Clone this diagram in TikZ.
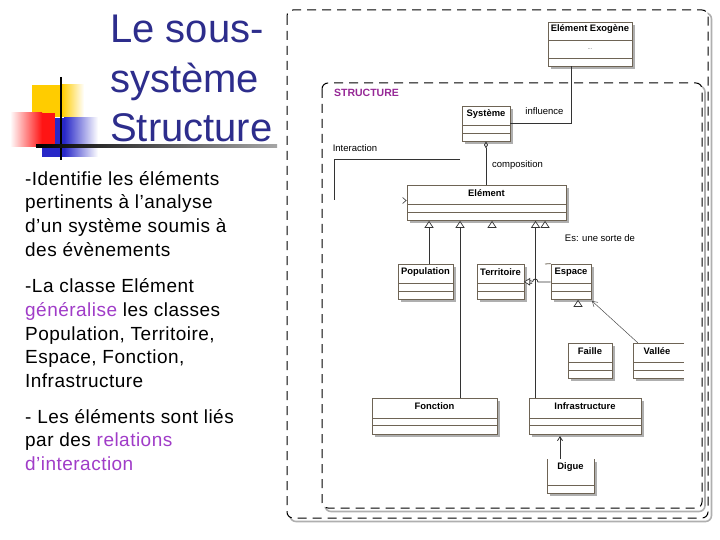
\documentclass[tikz,border=0pt]{standalone}
\usepackage{fontspec}
\setmainfont{Liberation Sans}
\newfontfamily\bodyfont[LetterSpace=2.5]{Liberation Sans}
\usetikzlibrary{arrows.meta,fit,calc}
\definecolor{titleblue}{RGB}{45,45,140}
\definecolor{purp}{RGB}{160,60,200}
\definecolor{structpurp}{RGB}{150,40,150}
\definecolor{umlline}{RGB}{110,100,85}
\definecolor{shadowgray}{RGB}{175,175,175}
\definecolor{ylw}{RGB}{255,204,0}
\definecolor{blu}{RGB}{40,40,200}
\definecolor{rd}{RGB}{255,20,20}
\tikzset{
 clsbox/.style={draw=umlline, fill=white, line width=0.8pt, inner sep=0pt},
 clsline/.style={draw=umlline, line width=0.8pt},
 clslabel/.style={font=\fontsize{9.4}{10}\selectfont\bfseries, inner sep=0pt},
 umllabel/.style={font=\fontsize{9.5}{11}\selectfont, inner sep=0pt},
 conn/.style={draw=black!80, line width=0.8pt},
 depl/.style={draw=black!70, line width=0.5pt},
 gentri/.style={draw=black!80, fill=white, line width=0.7pt},
 bodytext/.style={font=\bodyfont\fontsize{19}{22}\selectfont, anchor=base west, inner sep=0pt},
 titletext/.style={font=\fontsize{40}{48}\selectfont, text=titleblue, anchor=base west, inner sep=0pt},
 framebox/.style={draw=black, line width=1pt, dash pattern=on 9pt off 6pt, rounded corners=6pt},
 frameshadow/.style={draw=shadowgray, line width=1.6pt, rounded corners=6pt},
}
\newcommand\umlcls[8]{%
  \fill[shadowgray] (#2+3,#3+3) rectangle (#4+3,#5+3);
  \node[clsbox, fit={(#2,#3) (#4,#5)}] (#1) {};
  \draw[clsline] (#2,#6) -- (#4,#6);
  \draw[clsline] (#2,#7) -- (#4,#7);
  \node[clslabel] (#1-t) at ({(#2+#4)/2},{(#3+#6)/2-1.5}) {#8};
}
\newcommand\gentriangle[2]{%
  \draw[gentri] (#1-4,#2+6) -- (#1,#2) -- (#1+4,#2+6) -- cycle;
}
\begin{document}
\begin{tikzpicture}[x=1pt,y=-1pt]
\useasboundingbox (0,0) rectangle (720,540);
\fill[white] (0,0) rectangle (720,540);

% ---- title decoration
\fill[ylw] (32,85) rectangle (62,117);
\shade[left color=ylw, right color=white] (62,85) rectangle (84,117);
\fill[blu] (42,118) rectangle (64,157);
\shade[left color=blu, right color=white] (64,118) rectangle (98,157);
\shade[left color=white, right color=rd] (10,113) rectangle (42,147);
\fill[rd] (42,113) rectangle (55,147);
\draw[black, line width=2pt] (61,77) -- (61,160);
\shade[left color=black, right color=gray!70] (36,144.5) rectangle (277,147.5);

% ---- title
\node[titletext] (t1) at (110,43) {Le sous-};
\node[titletext] (t2) at (110,92.5) {système};
\node[titletext] (t3) at (110,142) {Structure};

% ---- body text
\node[bodytext] (l1) at (25,185.7) {-Identifie les éléments};
\node[bodytext] (l2) at (25,209) {pertinents à l’analyse};
\node[bodytext] (l3) at (25,232.7) {d’un système soumis à};
\node[bodytext] (l4) at (25,256.5) {des évènements};
\node[bodytext] (l5) at (25,292.7) {-La classe Elément};
\node[bodytext] (l6) at (25,316.5) {\textcolor{purp}{généralise} les classes};
\node[bodytext] (l7) at (25,340) {Population, Territoire,};
\node[bodytext] (l8) at (25,363.5) {Espace, Fonction,};
\node[bodytext] (l9) at (25,387.5) {Infrastructure};
\node[bodytext] (l10) at (25,423) {- Les éléments sont liés};
\node[bodytext] (l11) at (25,446.7) {par des \textcolor{purp}{relations}};
\node[bodytext] (l12) at (25,470) {\textcolor{purp}{d’interaction}};

% ---- frames
\draw[frameshadow] (290,13) rectangle (711.5,521.5);
\fill[white, rounded corners=6pt] (287,10) rectangle (708,518);
\draw[framebox] (287,10) rectangle (708,518);
\draw[frameshadow] (325,86) rectangle (705,511.5);
\fill[white, rounded corners=6pt] (322,83) rectangle (702,508);
\draw[framebox] (322,83) rectangle (702,508);

% ---- labels
\node[font=\fontsize{10.5}{12}\selectfont\bfseries, text=structpurp, inner sep=0pt] (slab) at (366.5,93) {STRUCTURE};
\node[umllabel] (linf) at (544.5,111.5) {influence};
\node[umllabel] (lint) at (355,148) {Interaction};
\node[umllabel] (lcomp) at (517.5,165.5) {composition};
\node[umllabel] (lsorte) at (600,238.5) {Es: une sorte de};

% ---- connectors (drawn before the classes)
\coordinate (ia1) at (460,159);
\coordinate (ia2) at (334,159);
\coordinate (ia3) at (334,200);
\draw[conn] (ia1) -- (ia2) -- (ia3);

\coordinate (g1) at (429,227.5);
\coordinate (g2) at (460,227.5);
\coordinate (g3) at (535.5,227.5);
\coordinate (h1) at (538,282);
\coordinate (h2) at (532.5,282);
\coordinate (d1) at (560,436);

% ---- classes
\umlcls{exo}{548}{22}{632}{66}{40}{58}{Elément Exogène}
\node[font=\fontsize{6}{7}\selectfont, text=black!60, inner sep=0pt] (exodots) at (590,49) {...};
\umlcls{sys}{462}{106}{510}{141}{125}{133}{Système}
\umlcls{elem}{407}{185}{566}{220}{204}{212}{Elément}
\umlcls{pop}{398}{264}{453}{299}{283}{291}{Population}
\umlcls{terr}{477}{264}{524}{299}{283}{291}{Territoire}
\umlcls{esp}{551}{264}{591}{299}{283}{291}{Espace}
\umlcls{faille}{568}{343}{612}{378}{362}{370}{Faille}
\umlcls{fonc}{372}{398}{497}{434}{418}{425}{Fonction}
\umlcls{infra}{529}{398}{641}{434}{418}{425}{Infrastructure}

% Vallée (cut at the right)
\fill[shadowgray] (636,346) rectangle (684,381);
\node[fit={(633,343) (684,378)}, inner sep=0pt, fill=white] (vallee) {};
\draw[clsline] (684,343) -- (633,343) -- (633,378) -- (684,378);
\draw[clsline] (633,362) -- (684,362);
\draw[clsline] (633,370) -- (684,370);
\node[clslabel] (vallee-t) at (657,351) {Vallée};

% Digue (open top)
\fill[shadowgray] (550,462) rectangle (597,496);
\node[fit={(547,459) (594,493)}, inner sep=0pt, fill=white] (digue) {};
\draw[clsline] (547,459) -- (547,493) -- (594,493) -- (594,459);
\draw[clsline] (547,485) -- (594,485);
\node[clslabel] (digue-t) at (570.5,467) {Digue};

% ---- connectors touching the classes
\draw[conn] ($(exo.south west)+(24,0)$) |- (sys.east);
\draw[conn, {Diamond[open,length=7pt,width=4pt]}-] (sys.south) -- (sys.south |- elem.north);
\draw[conn, line width=0.6pt] ($(elem.west)+(-4,-5)$) -- ($(elem.west)+(-0.5,-2)$) -- ($(elem.west)+(-4,1)$);

\draw[conn] (pop.north -| g1) -- (g1);
\draw[conn] (fonc.north -| g2) -- (g2);
\draw[conn] (infra.north -| g3) -- (g3);
\gentriangle{429}{221.5}
\gentriangle{460}{221.5}
\gentriangle{492}{221.5}
\gentriangle{535.5}{221.5}
\gentriangle{545}{221.5}

\draw[conn] (esp.west |- h1) -- (h1) .. controls (537.5,278) and (533,278) .. (h2);
\node[font=\fontsize{6}{7}\selectfont, inner sep=0pt] (one) at (531,282) {1};
\draw[gentri] (529.8,278.5) -- (524.5,281.8) -- (529.8,285.1) -- cycle;
\draw[clsline] (545,264) -- (esp.north west);

\gentriangle{578}{300.5}
\draw[depl, -{Straight Barb[length=5pt,width=6pt]}] ($(vallee.north west)+(5,0)$) -- ($(esp.south east)+(0.5,1.5)$);

\draw[conn, -{Straight Barb[length=4pt,width=5pt]}] (digue.north -| d1) -- (d1);
\end{tikzpicture}
\end{document}
